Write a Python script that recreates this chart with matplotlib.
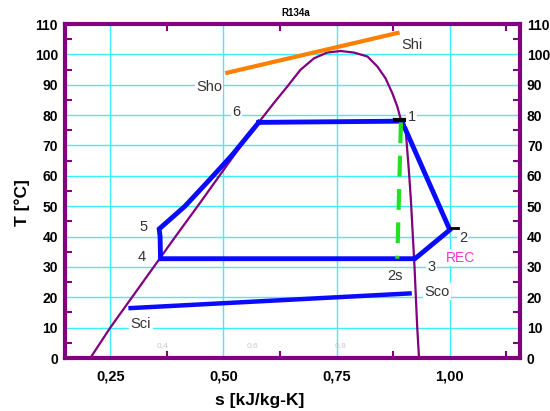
import matplotlib
matplotlib.use("Agg")
import matplotlib.pyplot as plt
from matplotlib.font_manager import FontProperties
from matplotlib.ticker import FixedLocator

# ---- data ----
dome_s = [0.206, 0.250, 0.298, 0.346, 0.394, 0.443, 0.491, 0.539, 0.582, 0.611, 0.641,
          0.670, 0.700, 0.729, 0.759, 0.788, 0.818, 0.840, 0.858, 0.873, 0.884, 0.892,
          0.903, 0.910, 0.914, 0.922, 0.925, 0.928, 0.932]
dome_T = [0, 10, 20, 30, 40, 50, 60, 70, 78.4, 83.9, 89.4,
          94.9, 98.7, 100.6, 101.1, 100.6, 99.3, 96.0, 92.1, 87.2, 82.8, 78.4,
          74.1, 60.8, 52, 30, 20, 10, 0]

cycle_s = [0.578, 0.894, 1.000, 0.923, 0.361, 0.360, 0.358, 0.415, 0.468, 0.520, 0.578]
cycle_T = [77.6, 78.0, 42.2, 32.7, 32.7, 40.0, 42.5, 50.0, 58.5, 67.0, 77.6]

isen_s = [0.892, 0.884]
isen_T = [77.6, 32.7]

sink_s = [0.290, 0.916]
sink_T = [16.4, 21.3]

source_s = [0.504, 0.889]
source_T = [93.8, 107.2]

labels = [("Sho", 0.468, 89.4), ("Shi", 0.917, 103.1), ("6", 0.529, 81.1),
          ("1", 0.916, 79.3), ("2", 1.029, 39.5), ("3", 0.960, 30.0),
          ("2s", 0.879, 27.0), ("Sco", 0.972, 21.9), ("Sci", 0.318, 11.1),
          ("5", 0.324, 43.3), ("4", 0.319, 33.2)]

x_major = [0.25, 0.50, 0.75, 1.00]
x_major_labels = ["0,25", "0,50", "0,75", "1,00"]
x_minor = [0.375, 0.625, 0.875, 1.125]
y_major = list(range(0, 111, 10))
y_minor = list(range(5, 110, 10))
aux_labels = [("0,4", 0.365), ("0,6", 0.564), ("0,8", 0.759)]

# ---- figure ----
PURPLE = "#800080"
CYAN = "#40eef5"
BLUE = "#0a0aff"

fig = plt.figure(figsize=(5.5, 4.11), dpi=100)
ax = fig.add_axes([65/550, 1-358/411, (520-65)/550, (358-24)/411])
ax.set_xlim(0.15, 1.155)
ax.set_ylim(0, 110)

ax.xaxis.set_major_locator(FixedLocator(x_major))
ax.xaxis.set_minor_locator(FixedLocator(x_minor))
ax.yaxis.set_major_locator(FixedLocator(y_major))
ax.yaxis.set_minor_locator(FixedLocator(y_minor))
ax.set_xticklabels(x_major_labels)
ax.grid(True, which="major", color=CYAN, linewidth=1.0, zorder=0)
ax.set_axisbelow(True)

for sp in ax.spines.values():
    sp.set_color(PURPLE)
    sp.set_linewidth(3)

ax.tick_params(which="major", length=0)
ax.tick_params(axis="x", which="major", pad=8)
ax.tick_params(axis="y", which="major", pad=5, labelright=True, right=False)
ax.tick_params(which="minor", direction="in", length=5, width=1.5, color=PURPLE,
               top=True, right=True, bottom=True, left=True)

tickfp = FontProperties(family="Liberation Sans", weight="bold", size=10.5)
ytickfp = FontProperties(family="Liberation Sans", weight="bold", size=10)
for t in ax.xaxis.get_major_ticks():
    t.label1.set_fontproperties(tickfp)
for t in ax.yaxis.get_major_ticks():
    t.label1.set_fontproperties(ytickfp)
    t.label2.set_fontproperties(ytickfp)
ax.tick_params(axis="y", which="major", pad=5)
for t in ax.yaxis.get_major_ticks():
    t.set_pad(5)

# curves
ax.plot(dome_s, dome_T, color=PURPLE, linewidth=1.6, zorder=3)
ax.plot(source_s, source_T, color="#ff8000", linewidth=3, solid_capstyle="butt", zorder=4)
ax.plot(sink_s, sink_T, color=BLUE, linewidth=3.2, solid_capstyle="butt", zorder=4)
ax.plot(cycle_s, cycle_T, color=BLUE, linewidth=3.5, solid_joinstyle="miter", zorder=4)
ax.plot(isen_s, isen_T, color="#22e022", linewidth=3, linestyle=(0, (5, 3)), zorder=5)
ax.plot([0.879, 0.904], [78.4, 78.4], color="black", linewidth=3, zorder=6)
ax.plot([1.000, 1.018], [42.8, 42.8], color="black", linewidth=2, zorder=6)

for txt, s, T in labels:
    ax.text(s, T, txt, ha="center", va="center", fontsize=10.5, color="#333333",
            family="Liberation Sans",
            bbox=dict(facecolor="white", edgecolor="none", pad=1.0), zorder=7)
ax.text(1.023, 33.0, "REC", ha="center", va="center", fontsize=10, color="#ff33cc",
        family="Liberation Sans",
        bbox=dict(facecolor="white", edgecolor="none", pad=1.0), zorder=7)

for txt, s in aux_labels:
    ax.text(s, 4.0, txt, ha="center", va="center", fontsize=6, color="#c8c8c8",
            family="Liberation Sans", zorder=2)

fig.text(296/550, 1-13/411, "R134a", ha="center", va="center", fontsize=7,
         weight="bold", family="Liberation Sans")
fig.text(22/550, 1-203/411, "T [°C]", ha="center", va="center", rotation=90,
         fontsize=12.5, weight="bold", family="Liberation Sans")
fig.text(260/550, 1-400/411, "s [kJ/kg-K]", ha="center", va="center",
         fontsize=12.5, weight="bold", family="Liberation Sans")

fig.savefig("out.png", dpi=100, facecolor="white")
